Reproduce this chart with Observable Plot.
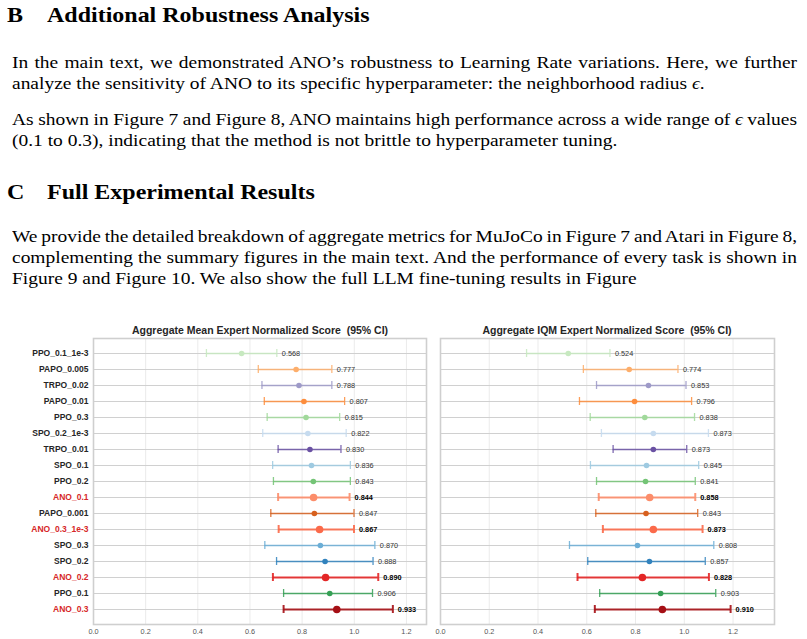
<!DOCTYPE html>
<html><head><meta charset="utf-8">
<script src="https://cdn.jsdelivr.net/npm/d3@7"></script>
<script src="https://cdn.jsdelivr.net/npm/@observablehq/plot@0.6"></script>
<style>
body{margin:0;background:#fff;width:807px;height:639px;overflow:hidden;position:relative;font-family:"Liberation Serif","Times New Roman",serif;color:#000}
.l{position:absolute;left:12px;font-size:17px;line-height:21px;white-space:nowrap;transform:scaleX(1.145);transform-origin:0 0}
.h{position:absolute;font-size:22px;font-weight:bold;line-height:24px;white-space:nowrap;transform:scaleX(1.09);transform-origin:0 0}
.t{position:absolute;font-family:"Liberation Sans",Arial,sans-serif;font-weight:bold;font-size:10.5px;line-height:12px;color:#262626;text-align:center;white-space:nowrap}
.p{position:absolute}
</style></head><body>
<div class="h" style="left:7px;top:3px">B</div>
<div class="h" style="left:47px;top:3px">Additional Robustness Analysis</div>
<div class="l j" style="top:52px">In the main text, we demonstrated ANO’s robustness to Learning Rate variations. Here, we further</div>
<div class="l" style="top:73px">analyze the sensitivity of ANO to its specific hyperparameter: the neighborhood radius <i>ϵ</i>.</div>
<div class="l j" style="top:109px">As shown in Figure 7 and Figure 8, ANO maintains high performance across a wide range of <i>ϵ</i> values</div>
<div class="l" style="top:130px">(0.1 to 0.3), indicating that the method is not brittle to hyperparameter tuning.</div>
<div class="h" style="left:7px;top:180px">C</div>
<div class="h" style="left:47px;top:180px">Full Experimental Results</div>
<div class="l j" style="top:226px">We provide the detailed breakdown of aggregate metrics for MuJoCo in Figure 7 and Atari in Figure 8,</div>
<div class="l j" style="top:247px">complementing the summary figures in the main text. And the performance of every task is shown in</div>
<div class="l" style="top:268px">Figure 9 and Figure 10. We also show the full LLM fine-tuning results in Figure</div>

<div class="t" style="left:110px;width:300px;top:324px">Aggregate Mean Expert Normalized Score&nbsp; (95% CI)</div>
<div class="t" style="left:457px;width:300px;top:324px">Aggregate IQM Expert Normalized Score&nbsp; (95% CI)</div>
<div class="p" id="left" style="left:0px;top:336px"></div>
<div class="p" id="right" style="left:438px;top:336px"></div>
<script>
// justify lines to the text block width by adjusting word spacing
const textWidth = 785, sx = 1.145;
document.querySelectorAll(".j").forEach(el => {
  const natural = el.getBoundingClientRect().width / sx;
  const spaces = (el.textContent.match(/ /g) || []).length;
  el.style.wordSpacing = ((textWidth / sx - natural) / spaces) + "px";
});

const names = ["PPO_0.1_1e-3","PAPO_0.005","TRPO_0.02","PAPO_0.01","PPO_0.3","SPO_0.2_1e-3","TRPO_0.01","SPO_0.1","PPO_0.2","ANO_0.1","PAPO_0.001","ANO_0.3_1e-3","SPO_0.3","SPO_0.2","ANO_0.2","PPO_0.1","ANO_0.3"];
const colors = ["#c7e9c0","#fdae6b","#9e9ac8","#fd8d3c","#a1d99b","#c6dbef","#6a51a3","#9ecae1","#74c476","#fc8d6a","#d7601e","#fb6a4a","#6baed6","#3182bd","#e32626","#35a055","#a50f15"];
const meanV  = [0.568,0.777,0.788,0.807,0.815,0.822,0.830,0.836,0.843,0.844,0.847,0.867,0.870,0.888,0.890,0.906,0.933];
const meanLo = [0.433,0.632,0.646,0.655,0.666,0.649,0.708,0.687,0.690,0.708,0.680,0.710,0.657,0.702,0.688,0.729,0.729];
const meanHi = [0.703,0.914,0.914,0.963,0.944,0.969,0.949,0.985,0.985,0.982,0.999,0.999,1.079,1.072,1.092,1.070,1.148];
const iqmV   = [0.524,0.774,0.853,0.796,0.838,0.873,0.873,0.845,0.841,0.858,0.843,0.873,0.808,0.857,0.828,0.903,0.910];
const iqmLo  = [0.353,0.586,0.640,0.570,0.614,0.660,0.708,0.615,0.640,0.649,0.637,0.666,0.529,0.604,0.562,0.653,0.633];
const iqmHi  = [0.695,0.974,1.007,1.030,1.042,1.099,1.010,1.059,1.045,1.045,1.055,1.075,1.121,1.086,1.101,1.129,1.190];
const xTicks = [0, 0.2, 0.4, 0.6, 0.8, 1.0, 1.2];

function panel(vals, lo, hi, xmax, showY, ml, width) {
  const data = names.map((n, i) => ({n, v: vals[i], lo: lo[i], hi: hi[i], c: colors[i], ano: n.startsWith("ANO")}));
  const norm = data.filter(d => !d.ano), ano = data.filter(d => d.ano);
  const marks = [
    Plot.ruleX(xTicks, {stroke: "#ebebeb", strokeWidth: 1}),
    Plot.ruleY(names, {y: d => d, stroke: "#d0d0d0", strokeWidth: 1.2}),
    Plot.frame({stroke: "#cfcfcf", strokeWidth: 1.6}),
    Plot.ruleY(norm, {y: "n", x1: "lo", x2: "hi", stroke: "c", strokeWidth: 1.3, strokeOpacity: 0.85}),
    Plot.ruleY(ano, {y: "n", x1: "lo", x2: "hi", stroke: "c", strokeWidth: 2, strokeOpacity: 0.9}),
    Plot.tickX(norm, {x: "lo", y: "n", stroke: "c", strokeWidth: 1.3, strokeOpacity: 0.85, insetTop: 4, insetBottom: 4}),
    Plot.tickX(norm, {x: "hi", y: "n", stroke: "c", strokeWidth: 1.3, strokeOpacity: 0.85, insetTop: 4, insetBottom: 4}),
    Plot.tickX(ano, {x: "lo", y: "n", stroke: "c", strokeWidth: 2, strokeOpacity: 0.9, insetTop: 4, insetBottom: 4}),
    Plot.tickX(ano, {x: "hi", y: "n", stroke: "c", strokeWidth: 2, strokeOpacity: 0.9, insetTop: 4, insetBottom: 4}),
    Plot.dot(norm, {x: "v", y: "n", fill: "c", r: 2.8}),
    Plot.dot(ano, {x: "v", y: "n", fill: "c", r: 3.8}),
    Plot.text(norm, {x: "hi", y: "n", text: d => d.v.toFixed(3), dx: 5, textAnchor: "start", fontSize: 7.3, fill: "#333"}),
    Plot.text(ano, {x: "hi", y: "n", text: d => d.v.toFixed(3), dx: 5, textAnchor: "start", fontSize: 7.3, fontWeight: "bold", fill: "#000"}),
    Plot.axisX({ticks: xTicks, tickFormat: ".1f", tickSize: 0, tickPadding: 4, fontSize: 7.3})
  ];
  if (showY) marks.push(Plot.text(names, {y: d => d, frameAnchor: "left", textAnchor: "end", dx: -5, fontWeight: "bold", fontSize: 8.5, fill: d => d.startsWith("ANO") ? "#d62728" : "#262626"}));
  return Plot.plot({
    width, height: 304, marginLeft: ml, marginRight: 4, marginTop: 2, marginBottom: 16,
    style: {fontFamily: "'Liberation Sans', Arial, sans-serif", fontSize: "7px", background: "transparent", color: "#555", overflow: "visible"},
    x: {domain: [0, xmax]},
    y: {type: "band", domain: names, paddingInner: 0, paddingOuter: 0.32, axis: null},
    color: {type: "identity"},
    marks
  });
}
document.getElementById("left").appendChild(panel(meanV, meanLo, meanHi, 1.277, true, 93, 430));
document.getElementById("right").appendChild(panel(iqmV, iqmLo, iqmHi, 1.37, false, 2, 340));
</script>
</body></html>
